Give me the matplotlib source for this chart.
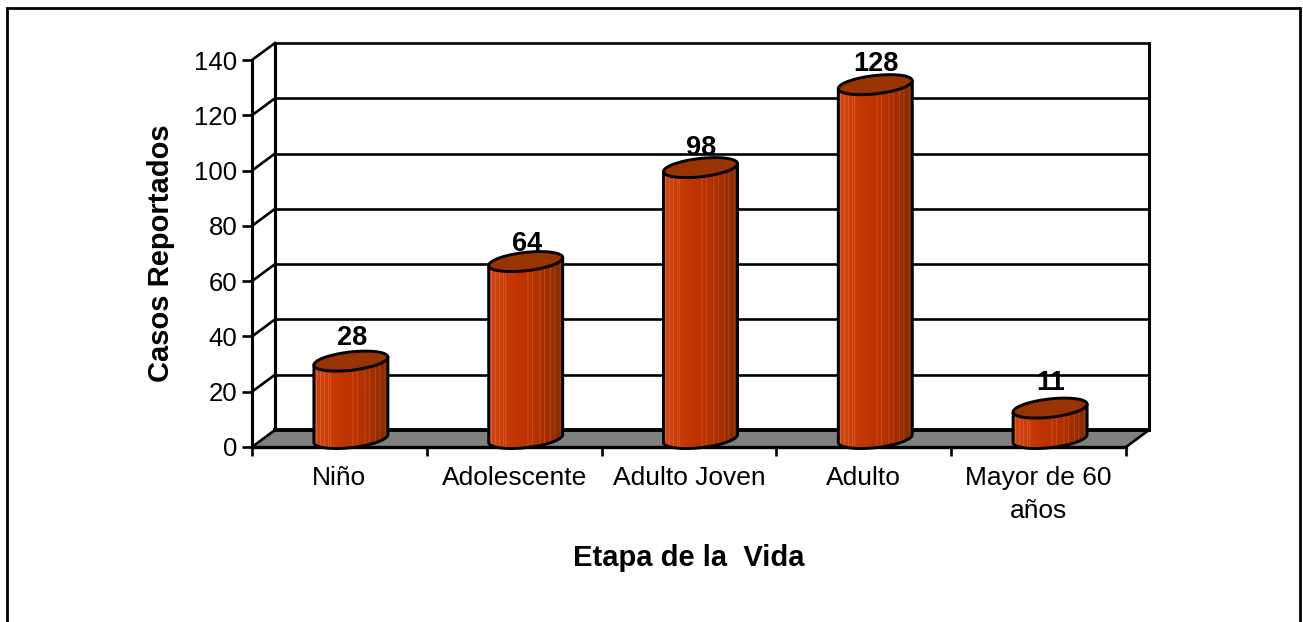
import numpy as np
import matplotlib
matplotlib.use('Agg')
import matplotlib.pyplot as plt
from matplotlib.colors import LinearSegmentedColormap
from matplotlib.patches import Polygon, Rectangle

categorias = ['Niño', 'Adolescente', 'Adulto Joven', 'Adulto', 'Mayor de 60\naños']
casos = [28, 64, 98, 128, 11]
yticks = [0, 20, 40, 60, 80, 100, 120, 140]

W, H = 1303, 622
plt.rcParams['font.family'] = ['Liberation Sans', 'DejaVu Sans']

fig = plt.figure(figsize=(W / 100, H / 100), dpi=100)
# eje frontal en pixeles de la imagen
left, right, y0, y140 = 252, 1126, 447, 60
ax = fig.add_axes([left / W, 1 - y0 / H, (right - left) / W, (y0 - y140) / H])
ax.set_xlim(0, 5)
ax.set_ylim(0, 140)
for s in ax.spines.values():
    s.set_visible(False)
ax.patch.set_visible(False)

# escala de pixeles a datos y profundidad del efecto 3D
px = 5 / (right - left)
py = 140 / (y0 - y140)
dx = 23 * px
dy = 17 * py
negro = dict(color='black', clip_on=False, solid_capstyle='projecting')

# marco exterior
fig.add_artist(Rectangle((7 / W, -0.05), 1293 / W, 1.05 - 8 / H, transform=fig.transFigure,
                         fill=False, ec='black', lw=2))

# piso
ax.add_patch(Polygon([(0, 0), (dx, dy), (5 + dx, dy), (5, 0)], fc='#808080', ec='none', clip_on=False, zorder=1))
ax.plot([0, dx], [0, dy], lw=1.9, zorder=2, **negro)
ax.plot([5, 5 + dx], [0, dy], lw=1.9, zorder=2, **negro)
ax.plot([dx, 5 + dx], [dy, dy], lw=2.8, zorder=2, **negro)

# paredes y lineas de grilla
for v in yticks[1:]:
    ax.plot([dx, 5 + dx], [v + dy, v + dy], lw=1.9, zorder=2, **negro)
    ax.plot([0, dx], [v, v + dy], lw=1.9, zorder=2, **negro)
ax.plot([dx, dx], [dy, 140 + dy], lw=2.2, zorder=2, **negro)
ax.plot([5 + dx, 5 + dx], [dy, 140 + dy], lw=2.2, zorder=2, **negro)
ax.plot([0, 0], [0, 140], lw=2.2, zorder=2, **negro)
ax.plot([0, 5], [0, 0], lw=2.4, zorder=2, **negro)

# ejes
ax.set_yticks(yticks)
ax.set_xticks(range(6))
ax.set_xticklabels([])
ax.set_xticks(np.arange(5) + 0.5, categorias, minor=True)
ax.tick_params(axis='x', which='major', length=6.5, width=1.9, color='black')
ax.tick_params(axis='x', which='minor', length=0, pad=14, labelsize=19)
plt.setp(ax.get_xticklabels(minor=True), linespacing=1.45)
ax.tick_params(axis='y', length=7.5, width=1.9, pad=3, labelsize=18.5)
ax.set_xlabel('Etapa de la  Vida', fontsize=21, fontweight='bold', labelpad=15)
ax.set_ylabel('Casos Reportados', fontsize=21, fontweight='bold', labelpad=14)

# cilindros
r = 34 * px
k = 14.6 * px
b = 10 * py
cmap = LinearSegmentedColormap.from_list('cil', ['#cc4a1c', '#c63c08', '#c03300', '#b53200', '#a02e00', '#7e2800'])
col = cmap(np.linspace(0, 1, 256))[np.newaxis, :, :]
for f in [0.03, 0.09, 0.14, 0.19, 0.22, 0.52, 0.58, 0.68, 0.74, 0.82, 0.88, 0.95]:
    j = int(f * 255)
    col[0, j:j + 2, :3] = np.minimum(col[0, j:j + 2, :3] + 0.17, 1)

t = np.linspace(0, 2 * np.pi, 200)
ex = r * np.cos(t) + k * np.sin(t)
ey = b * np.sin(t)
t_r = np.arctan2(k, r)
t_l = t_r + np.pi

# separacion en pixeles entre la tapa y el centro de cada etiqueta
sep_etiqueta = [13, 8, 10, 11, 15]

for i, v in enumerate(casos):
    cx = i + 0.5 + dx / 2
    base = dy / 2
    tope = v + dy / 2
    # contorno: mitad inferior de la base y lados hasta la tapa
    tt = np.linspace(t_l, t_r + 2 * np.pi, 100)
    bx = cx + r * np.cos(tt) + k * np.sin(tt)
    by = base + b * np.sin(tt)
    cuerpo = np.column_stack([np.r_[bx, bx[-1], bx[0]],
                              np.r_[by, tope + b * np.sin(t_r), tope + b * np.sin(t_l)]])
    pol = Polygon(cuerpo, fc='none', ec='black', lw=2.1, clip_on=False, zorder=4, joinstyle='round')
    ax.add_patch(pol)
    im = ax.imshow(col, extent=[cx - ex.max(), cx + ex.max(), -b, tope + b], aspect='auto', zorder=3)
    im.set_clip_on(True)
    im.set_clip_path(pol)
    ax.add_patch(Polygon(np.column_stack([cx + ex, tope + ey]), fc='#993300', ec='black', lw=2.1,
                         clip_on=False, zorder=5))
    ax.text(cx + 1 * px, tope + b + sep_etiqueta[i] * py, str(v), ha='center', va='center', fontsize=19.5,
            fontweight='bold', zorder=7)

ax.set_xlim(0, 5)
ax.set_ylim(0, 140)
fig.savefig('out.png', dpi=100)
